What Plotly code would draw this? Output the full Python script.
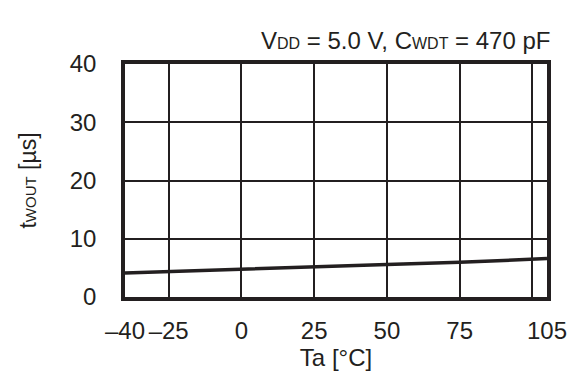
import plotly.graph_objects as go

temps = [-40, -25, 0, 25, 50, 75, 100, 105]
twout = [4.1, 4.35, 4.9, 5.3, 5.6, 5.95, 6.45, 6.6]

x_tickvals = [-40, -25, 0, 25, 50, 75, 100, 105]
x_ticktext = ["\u201340", "\u201325", "0", "25", "50", "75", "", "105"]
y_tickvals = [0, 10, 20, 30, 40]

ink = "#231f20"
font = "Liberation Sans, Arial, sans-serif"

fig = go.Figure()
fig.add_trace(go.Scatter(x=temps, y=twout, mode="lines",
                         line=dict(color=ink, width=3.5), cliponaxis=True,
                         showlegend=False, hoverinfo="skip"))

fig.update_layout(
    width=579, height=385,
    margin=dict(l=125, r=29, t=64, b=88),
    paper_bgcolor="white", plot_bgcolor="white",
    font=dict(family=font, size=24, color=ink),
    xaxis=dict(range=[-40, 105], tickvals=x_tickvals, ticktext=x_ticktext,
               showgrid=True, gridcolor=ink, gridwidth=1.5,
               showline=True, linecolor=ink, linewidth=3.5, mirror=True,
               ticks="", ticklabelstandoff=9, zeroline=False,
               tickfont=dict(size=24),
               title=dict(text="Ta [\u00b0C]", font=dict(size=24), standoff=3)),
    yaxis=dict(range=[0, 40], tickvals=y_tickvals,
               showgrid=True, gridcolor=ink, gridwidth=1.5,
               showline=True, linecolor=ink, linewidth=3.5, mirror=True,
               ticks="", ticklabelstandoff=20, zeroline=False,
               tickfont=dict(size=24),
               title=dict(text="t<span style='font-size:15px'>WOUT</span> [\u00b5s]",
                          font=dict(size=23), standoff=28)),
    annotations=[dict(text="V<span style='font-size:16px'>DD</span> = 5.0 V, C<span style='font-size:16px'>WDT</span> = 470 pF",
                      xref="paper", yref="paper", x=1.015, y=1.0,
                      xanchor="right", yanchor="bottom", yshift=8,
                      showarrow=False, font=dict(size=24, color=ink))],
)

fig.write_html("out.html", config={"displayModeBar": False},
               post_script="document.body.style.margin='0';document.body.style.overflow='hidden';")
